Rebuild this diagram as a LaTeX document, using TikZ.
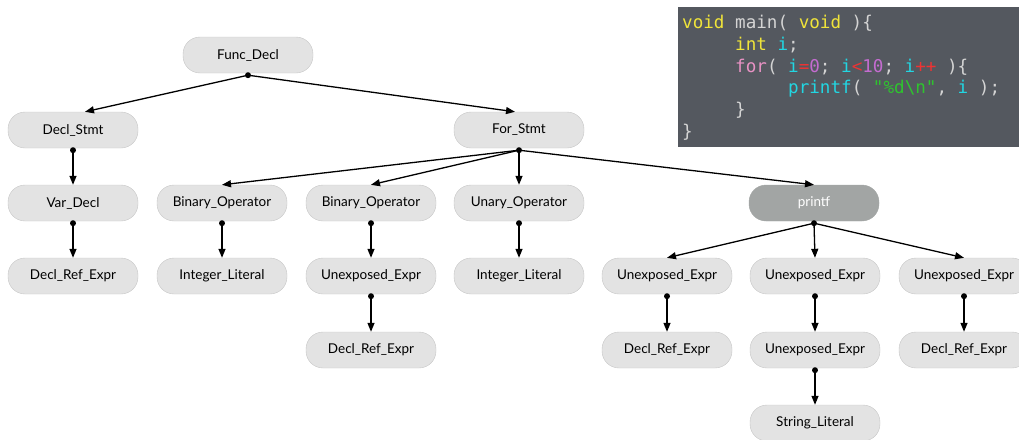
\documentclass[tikz,border=0pt]{standalone}
\usepackage{fontspec}
\setmainfont{Lato}
\newfontfamily\codefont{DejaVu Sans Mono}[Ligatures=TeXOff]
\usepackage{xcolor}
\usetikzlibrary{positioning,arrows.meta}

\definecolor{nodefill}{HTML}{E3E3E3}
\definecolor{nodeline}{HTML}{C6C6C6}
\definecolor{callfill}{HTML}{A2A5A4}
\definecolor{codebg}{HTML}{54585F}
\definecolor{codeplain}{HTML}{D4D4D4}
\definecolor{kwyel}{HTML}{F0E43A}
\definecolor{idcyan}{HTML}{22D6E2}
\definecolor{forpink}{HTML}{E892C4}
\definecolor{opred}{HTML}{EE3333}
\definecolor{numpurple}{HTML}{C46CD0}
\definecolor{strgreen}{HTML}{2EC42E}

\newcommand{\ckw}[1]{\textcolor{kwyel}{#1}}
\newcommand{\cid}[1]{\textcolor{idcyan}{#1}}
\newcommand{\cfor}[1]{\textcolor{forpink}{#1}}
\newcommand{\cop}[1]{\textcolor{opred}{#1}}
\newcommand{\cnum}[1]{\textcolor{numpurple}{#1}}
\newcommand{\cstr}[1]{\textcolor{strgreen}{#1}}

\tikzset{
  astnode/.style={draw=nodeline, fill=nodefill, rounded corners=17pt,
    minimum width=130pt, minimum height=36pt, inner sep=0pt,
    font=\fontsize{13.5}{15}\selectfont},
  callnode/.style={astnode, draw=callfill, fill=callfill, text=white},
  astarrow/.style={-{Triangle[length=9pt,width=7pt]}, line width=1.3pt},
  codeln/.style={anchor=base west, inner sep=0pt, text=codeplain,
    font=\codefont\fontsize{17.6}{20}\selectfont},
}

\begin{document}
\begin{tikzpicture}[x=1pt,y=-1pt]
  \useasboundingbox (0,0) rectangle (1019,439);

  % code snippet
  \fill[codebg] (678,7) rectangle (1019,147);
  \node[codeln] (l1) at (682,28)   {\ckw{void} main( \ckw{void} )\{};
  \node[codeln] (l2) at (735,50)   {\ckw{int} \cid{i};};
  \node[codeln] (l3) at (735,72)   {\cfor{for}( \cid{i}\cop{=}\cnum{0}; \cid{i}\cop{<}\cnum{10}; \cid{i}\cop{++} )\{};
  \node[codeln] (l4) at (788,93.5) {\cid{printf}( \cstr{"\%d\textbackslash n"}, \cid{i} );};
  \node[codeln] (l5) at (735,115)  {\}};
  \node[codeln] (l6) at (682,137)  {\}};

  % tree
  \node[astnode] (func) at (248,55) {Func\_Decl};
  \node[astnode] (declstmt) at (73,130) {Decl\_Stmt};
  \node[astnode] (fors) at (519,130) {For\_Stmt};

  \node[astnode] (vardecl) at (73,203) {Var\_Decl};
  \node[astnode] (binop1) at (222,203) {Binary\_Operator};
  \node[astnode] (binop2) at (371,203) {Binary\_Operator};
  \node[astnode] (unop) at (519,203) {Unary\_Operator};
  \node[callnode] (printf) at (814,203) {printf};

  \node[astnode] (dre1) at (73,276) {Decl\_Ref\_Expr};
  \node[astnode] (intlit1) at (222,276) {Integer\_Literal};
  \node[astnode] (unex1) at (371,276) {Unexposed\_Expr};
  \node[astnode] (intlit2) at (519,276) {Integer\_Literal};
  \node[astnode] (unex2) at (667,276) {Unexposed\_Expr};
  \node[astnode] (unex3) at (815,276) {Unexposed\_Expr};
  \node[astnode] (unex4) at (964,276) {Unexposed\_Expr};

  \node[astnode] (dre2) at (371,350) {Decl\_Ref\_Expr};
  \node[astnode] (dre3) at (667,350) {Decl\_Ref\_Expr};
  \node[astnode] (unex5) at (815,350) {Unexposed\_Expr};
  \node[astnode] (dre4) at (964,350) {Decl\_Ref\_Expr};

  \node[astnode] (strlit) at (815,423) {String\_Literal};

  % connectors, each leaving a dot under its parent
  \foreach \p in {func,declstmt,vardecl,fors,binop1,binop2,unex1,unop,printf,unex2,unex3,unex5,unex4}
    \coordinate (\p-out) at ([yshift=-2pt]\p.south);
  \draw[astarrow] (func-out) -- ([xshift=12pt]declstmt.north);
  \draw[astarrow] (func-out) -- ([xshift=-4pt]fors.north);
  \draw[astarrow] (declstmt-out) -- (vardecl.north);
  \draw[astarrow] (vardecl-out) -- (dre1.north);
  \draw[astarrow] (fors-out) -- (binop1.north);
  \draw[astarrow] (fors-out) -- (binop2.north);
  \draw[astarrow] (fors-out) -- (unop.north);
  \draw[astarrow] (fors-out) -- (printf.north);
  \draw[astarrow] (binop1-out) -- (intlit1.north);
  \draw[astarrow] (binop2-out) -- (unex1.north);
  \draw[astarrow] (unex1-out) -- (dre2.north);
  \draw[astarrow] (unop-out) -- (intlit2.north);
  \draw[astarrow] (printf-out) -- (unex2.north);
  \draw[astarrow] (printf-out) -- (unex3.north);
  \draw[astarrow] (printf-out) -- (unex4.north);
  \draw[astarrow] (unex2-out) -- (dre3.north);
  \draw[astarrow] (unex3-out) -- (unex5.north);
  \draw[astarrow] (unex5-out) -- (strlit.north);
  \draw[astarrow] (unex4-out) -- (dre4.north);
  \foreach \p in {func,declstmt,vardecl,fors,binop1,binop2,unex1,unop,printf,unex2,unex3,unex5,unex4}
    \fill (\p-out) circle (3pt);
\end{tikzpicture}
\end{document}
